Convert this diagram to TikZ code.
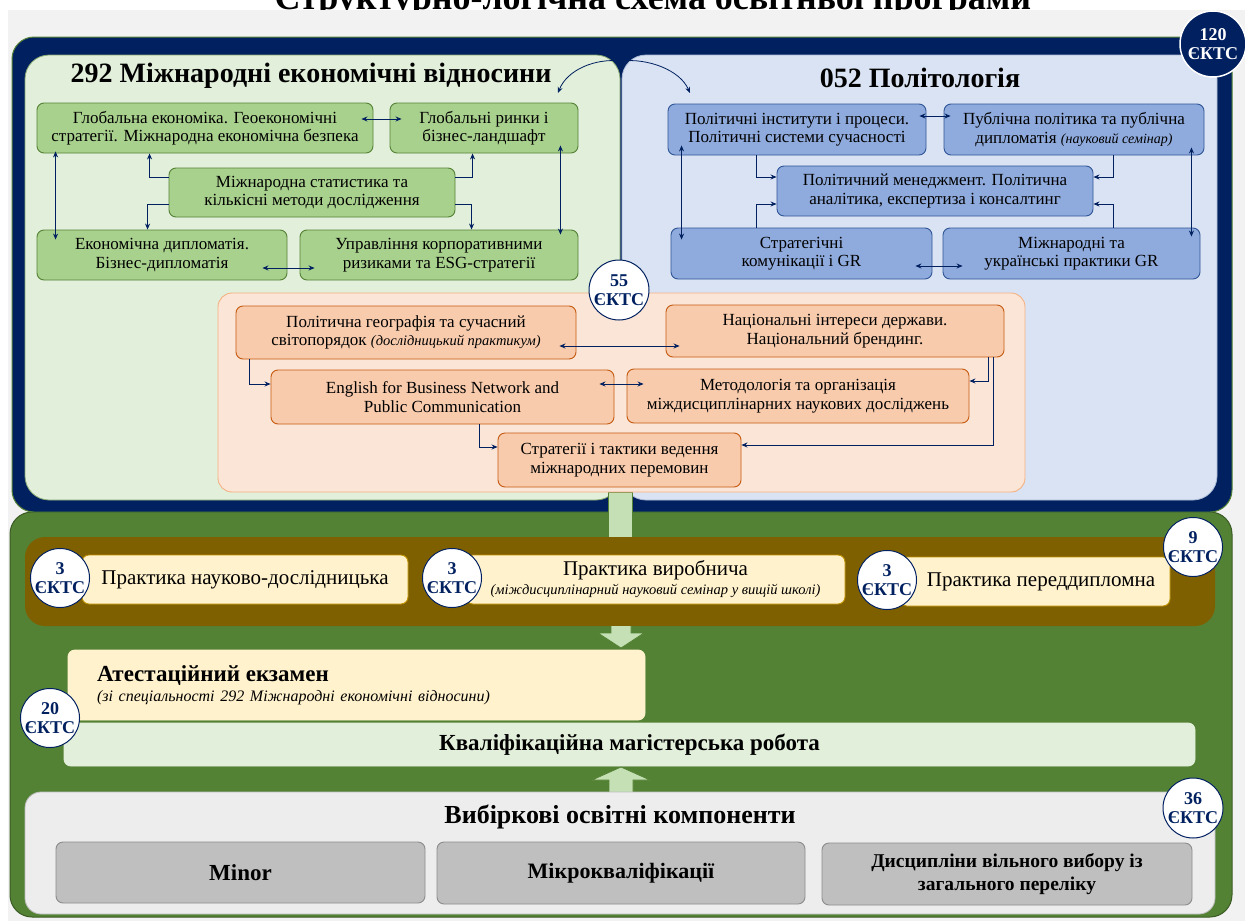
\documentclass[tikz,border=0pt]{standalone}
\usepackage{fontspec}
\setmainfont{Liberation Serif}
\usetikzlibrary{positioning,arrows.meta}
\definecolor{navy}{RGB}{0,32,96}
\definecolor{pagegray}{RGB}{242,242,242}
\definecolor{mevpanel}{RGB}{226,239,218}
\definecolor{mevbox}{RGB}{169,209,142}
\definecolor{mevline}{RGB}{84,130,53}
\definecolor{polpanel}{RGB}{218,227,243}
\definecolor{polbox}{RGB}{143,170,220}
\definecolor{polline}{RGB}{47,85,151}
\definecolor{companel}{RGB}{251,229,214}
\definecolor{companelline}{RGB}{244,177,131}
\definecolor{combox}{RGB}{248,203,173}
\definecolor{comline}{RGB}{197,90,17}
\definecolor{darkgreen}{RGB}{84,130,53}
\definecolor{bandbrown}{RGB}{127,96,0}
\definecolor{cream}{RGB}{255,242,204}
\definecolor{creamline}{RGB}{191,144,0}
\definecolor{elecpanel}{RGB}{237,237,237}
\definecolor{elecbox}{RGB}{191,191,191}
\definecolor{elecline}{RGB}{140,140,140}
\definecolor{fatgreen}{RGB}{197,224,180}
\tikzset{%
    box/.style={draw,rounded corners=7pt,line width=0.9pt,align=center,
        inner sep=2pt,font=\fontsize{17}{18.5}\selectfont},
    wh/.style 2 args={minimum width=#1,minimum height=#2},
    mev box/.style={box,fill=mevbox,draw=mevline},
    pol box/.style={box,fill=polbox,draw=polline},
    com box/.style={box,fill=combox,draw=comline},
    ects/.style={circle,draw=navy,fill=white,line width=1pt,text=navy,
        inner sep=0pt,minimum size=#1,align=center,
        font=\fontsize{18}{19}\selectfont\bfseries},
    ects/.default=56pt
}

\begin{document}
\begin{tikzpicture}[x=1pt,y=-1pt,>={Stealth[length=6pt,width=5pt]},
  link/.style={draw=navy,line width=0.8pt},
  fat/.style={fill=fatgreen,draw=mevline,line width=0.8pt}]
  \useasboundingbox (0,0) rectangle (1245,921);
  \clip (0,0) rectangle (1245,921);
  \fill[white] (0,0) rectangle (1245,921);

  \node[anchor=base,font=\fontsize{36}{38}\selectfont\bfseries] (title) at (653,9)
    {Структурно-логічна схема освітньої програми};
  \fill[pagegray] (8,10) rectangle (1245,921);

  % outer frames
  \filldraw[fill=darkgreen,draw=darkgreen!70!black,line width=1pt,rounded corners=22pt]
    (10,512) rectangle (1232,917);
  \filldraw[fill=navy,draw=mevline,line width=1pt,rounded corners=22pt]
    (12,37) rectangle (1232,512);
  \filldraw[fill=mevpanel,draw=mevline!70,line width=0.8pt,rounded corners=24pt]
    (25,55) rectangle (620,500);
  \filldraw[fill=polpanel,draw=polline!40,line width=0.8pt,rounded corners=24pt]
    (622,55) rectangle (1217,500);
  \draw[fat] (608,492) rectangle (632,537);

  \node[font=\fontsize{28}{30}\selectfont\bfseries] (mevtitle) at (311,76)
    {292 Міжнародні економічні відносини};
  \node[font=\fontsize{28}{30}\selectfont\bfseries] (poltitle) at (920,78)
    {052 Політологія};
  \coordinate (split) at (621,61);
  \coordinate (mev end) at (558,93);
  \coordinate (pol end) at (690,93);
  \draw[link,->] (split) .. controls (595,58) and (567,70) .. (mev end);
  \draw[link,->] (split) .. controls (648,58) and (680,70) .. (pol end);

  % 292
  \node[mev box,wh={336}{50}] (g1) at (205,128)
    {Глобальна економіка. Геоекономічні\\стратегії. Міжнародна економічна безпека};
  \node[mev box,wh={188}{50}] (g2) at (484,128) {Глобальні ринки і\\бізнес-ландшафт};
  \node[mev box,wh={286}{49}] (g3) at (312,192.5)
    {Міжнародна статистика та\\кількісні методи дослідження};
  \node[mev box,wh={250}{50}] (g4) at (162,255) {Економічна дипломатія.\\Бізнес-дипломатія};
  \node[mev box,wh={278}{50}] (g5) at (439,255)
    {Управління корпоративними\\ризиками та ESG-стратегії};

  \draw[link,<->] ([xshift=-12pt,yshift=9pt]g1.east) -- ([xshift=12pt,yshift=9pt]g2.west);
  \draw[link,<->] ([xshift=19pt,yshift=2pt]g1.south west) -- ([xshift=19pt,yshift=-10pt]g4.north west);
  \draw[link,<->] ([xshift=-18pt,yshift=8pt]g2.south east) -- ([xshift=-18pt,yshift=-5pt]g5.north east);
  \draw[link,->] ([yshift=15.5pt]g3.west) -| ([xshift=113pt]g1.south west);
  \draw[link,->] ([yshift=15.5pt]g3.east) -| ([xshift=83pt]g2.south west);
  \draw[link,->] ([yshift=-12pt]g3.west) -| ([xshift=111pt]g4.north west);
  \draw[link,->] ([yshift=-12pt]g3.east) -| ([xshift=172pt]g5.north west);
  \draw[link,<->] ([xshift=-25pt,yshift=-13pt]g4.east) -- ([xshift=15pt,yshift=-13pt]g5.west);

  % 052
  \node[pol box,wh={258}{51}] (b1) at (797,129.5)
    {Політичні інститути і процеси.\\Політичні системи сучасності};
  \node[pol box,wh={260}{51}] (b2) at (1074,129.5)
    {Публічна політика та публічна\\дипломатія {\itshape\fontsize{14}{16}\selectfont(науковий семінар)}};
  \node[pol box,wh={316}{50}] (b3) at (935,191)
    {Політичний менеджмент. Політична\\аналітика, експертиза і консалтинг};
  \node[pol box,wh={261}{51}] (b4) at (801.5,253.5) {Стратегічні\\комунікації і GR};
  \node[pol box,wh={257}{51}] (b5) at (1071.5,253.5) {Міжнародні та\\українські практики GR};

  \draw[link,<->] ([xshift=-7pt,yshift=13.5pt]b1.east) -- ([xshift=7pt,yshift=13.5pt]b2.west);
  \draw[link,<->] ([xshift=14pt,yshift=10pt]b1.south west) -- ([xshift=11pt,yshift=-12pt]b4.north west);
  \draw[link,<->] ([xshift=-13pt,yshift=8pt]b2.south east) -- ([xshift=-9pt,yshift=-9pt]b5.north east);
  \draw[link,->] ([xshift=89pt]b1.south west) |- ([yshift=14pt]b3.west);
  \draw[link,->] ([xshift=170pt]b2.south west) |- ([yshift=14pt]b3.east);
  \draw[link,->] ([xshift=86pt]b4.north west) |- ([yshift=-13pt]b3.west);
  \draw[link,->] ([xshift=171pt]b5.north west) |- ([yshift=-13pt]b3.east);
  \draw[link,<->] ([xshift=-17pt,yshift=-12.5pt]b4.east) -- ([xshift=20pt,yshift=-12.5pt]b5.west);

  % common
  \filldraw[fill=companel,draw=companelline,line width=0.9pt,rounded corners=14pt]
    (218,293) rectangle (1025,492);
  \node[com box,wh={340}{53}] (o1) at (406,332.5)
    {Політична географія та сучасний\\світопорядок {\itshape\fontsize{14.5}{16}\selectfont(дослідницький практикум)}};
  \node[com box,wh={338}{52}] (o2) at (835,331)
    {Національні інтереси держави.\\Національний брендинг.};
  \node[com box,wh={343}{54}] (o3) at (442.5,397)
    {English for Business Network and\\Public Communication};
  \node[com box,wh={342}{54}] (o4) at (798,396)
    {Методологія та організація\\міждисциплінарних наукових досліджень};
  \node[com box,wh={243}{54}] (o5) at (619.5,460)
    {Стратегії і тактики ведення\\міжнародних перемовин};

  \draw[link,<->] ([xshift=-17pt,yshift=-13.5pt]o1.east) -- ([xshift=14pt,yshift=-15pt]o2.west);
  \draw[link,->] ([xshift=14pt]o1.south west) |- ([yshift=13pt]o3.west);
  \draw[link,<->] ([xshift=-15pt,yshift=13pt]o3.east) -- ([xshift=17pt,yshift=12pt]o4.west);
  \draw[link,->] ([xshift=-16pt]o2.south east) |- ([yshift=15pt]o4.east);
  \draw[link,->] ([xshift=209pt]o3.south west) |- ([yshift=13pt]o5.west);
  \draw[link,->] ([xshift=-11pt]o2.south east) |- ([yshift=15pt]o5.east);

  \node[ects=60pt] (ects55) at (619,290) {55\\ЄКТС};
  \node[ects=66pt,fill=navy,draw=white,text=white,line width=1.5pt] (ects120) at (1213,44) {120\\ЄКТС};

  % practice
  \fill[bandbrown,rounded corners=20pt] (25,537) rectangle (1215,626);
  \node[box,fill=cream,draw=creamline,wh={326}{49},font=\fontsize{21}{23}\selectfont] (p1) at (245,579.5)
    {Практика науково-дослідницька};
  \node[box,fill=cream,draw=creamline,wh={379}{49},font=\fontsize{21}{23}\selectfont] (p2) at (655.5,579.5)
    {Практика виробнича\\[-4pt]{\itshape\fontsize{14.5}{16}\selectfont(міждисциплінарний науковий семінар у вищій школі)}};
  \node[box,fill=cream,draw=creamline,wh={270}{49},font=\fontsize{21}{23}\selectfont] (p3) at (1035,581.5)
    {\hspace*{12pt}Практика переддипломна};
  \node[ects=54pt] (ects3a) at (60,578) {3\\ЄКТС};
  \node[ects=54pt] (ects3b) at (452,578) {3\\ЄКТС};
  \node[ects=54pt] (ects3c) at (887,580) {3\\ЄКТС};
  \node[ects] (ects9) at (1193,547) {9\\ЄКТС};

  \filldraw[fat] (611,626) -- (611,633) -- (598,633) -- (621,648) -- (644,633)
    -- (631,633) -- (631,626);

  % attestation
  \node[box,fill=cream,draw=cream,wh={577}{70},text width=519pt,align=left] (exam) at (356.5,685)
    {{\fontsize{23}{25}\selectfont\bfseries Атестаційний екзамен}\\[1pt]
     {\itshape\fontsize{16}{18}\selectfont(зі спеціальності 292 Міжнародні економічні відносини)}};
  \node[box,fill=mevpanel,draw=mevpanel,wh={1131}{43},font=\fontsize{23}{25}\selectfont\bfseries] (thesis)
    at (629.5,744.5) {Кваліфікаційна магістерська робота};
  \node[ects=58pt] (ects20) at (50,718) {20\\ЄКТС};

  \filldraw[fat] (609,793) -- (609,780) -- (592,780) -- (621,767) -- (650,780)
    -- (633,780) -- (633,793);

  % electives
  \filldraw[fill=elecpanel,draw=elecpanel!80!black,line width=0.8pt,rounded corners=16pt]
    (25,792) rectangle (1215,914);
  \node[font=\fontsize{26}{28}\selectfont\bfseries] (electitle) at (620,817)
    {Вибіркові освітні компоненти};
  \node[box,fill=elecbox,draw=elecline,wh={369}{61},font=\fontsize{23}{25}\selectfont\bfseries] (m1)
    at (240.5,872.5) {Minor};
  \node[box,fill=elecbox,draw=elecline,wh={368}{62},font=\fontsize{22}{25}\selectfont\bfseries] (m2)
    at (621,873) {Мікрокваліфікації};
  \node[box,fill=elecbox,draw=elecline,wh={370}{62},font=\fontsize{19.5}{23}\selectfont\bfseries] (m3)
    at (1007,874) {Дисципліни вільного вибору із\\загального переліку};
  \node[ects=60pt] (ects36) at (1193,808) {36\\ЄКТС};
\end{tikzpicture}
\end{document}
